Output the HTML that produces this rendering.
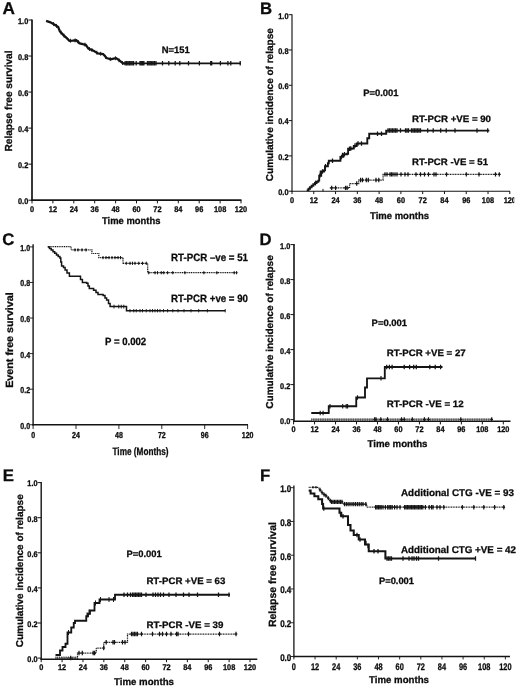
<!DOCTYPE html>
<html><head><meta charset="utf-8"><title>Figure</title>
<style>html,body{margin:0;padding:0;background:#fff;}svg{display:block;filter:blur(0.3px);}text{font-family:"Liberation Sans",sans-serif;fill:#0c0c0c;stroke:#0c0c0c;stroke-width:0.28px;text-rendering:geometricPrecision;}text.t{stroke-width:0.3px;}</style></head><body>
<svg width="520" height="689" viewBox="0 0 520 689">
<rect x="0" y="0" width="520" height="689" fill="#ffffff"/>
<g id="A">
<text x="2.6" y="14.3" font-size="17.2" text-anchor="start" font-weight="bold" >A</text>
<line x1="32" y1="19.5" x2="32" y2="201.05" stroke="#141414" stroke-width="1.7" />
<line x1="31.15" y1="200.2" x2="241.5" y2="200.2" stroke="#141414" stroke-width="1.7" />
<line x1="28.35" y1="20.0" x2="32" y2="20.0" stroke="#141414" stroke-width="1.0" />
<text x="28.25" y="23.9" font-size="8.2" text-anchor="end" font-weight="bold" textLength="10.26" lengthAdjust="spacingAndGlyphs" class="t">1.0</text>
<line x1="28.35" y1="56.04" x2="32" y2="56.04" stroke="#141414" stroke-width="1.0" />
<text x="28.25" y="59.94" font-size="8.2" text-anchor="end" font-weight="bold" textLength="10.26" lengthAdjust="spacingAndGlyphs" class="t">0.8</text>
<line x1="28.35" y1="92.08" x2="32" y2="92.08" stroke="#141414" stroke-width="1.0" />
<text x="28.25" y="95.98" font-size="8.2" text-anchor="end" font-weight="bold" textLength="10.26" lengthAdjust="spacingAndGlyphs" class="t">0.6</text>
<line x1="28.35" y1="128.12" x2="32" y2="128.12" stroke="#141414" stroke-width="1.0" />
<text x="28.25" y="132.02" font-size="8.2" text-anchor="end" font-weight="bold" textLength="10.26" lengthAdjust="spacingAndGlyphs" class="t">0.4</text>
<line x1="28.35" y1="164.16" x2="32" y2="164.16" stroke="#141414" stroke-width="1.0" />
<text x="28.25" y="168.06" font-size="8.2" text-anchor="end" font-weight="bold" textLength="10.26" lengthAdjust="spacingAndGlyphs" class="t">0.2</text>
<line x1="28.35" y1="200.2" x2="32" y2="200.2" stroke="#141414" stroke-width="1.0" />
<text x="28.25" y="204.1" font-size="8.2" text-anchor="end" font-weight="bold" textLength="10.26" lengthAdjust="spacingAndGlyphs" class="t">0.0</text>
<line x1="32.0" y1="200.2" x2="32.0" y2="203.35" stroke="#141414" stroke-width="1.0" />
<text x="32.0" y="211.7" font-size="8.2" text-anchor="middle" font-weight="bold" textLength="4.1" lengthAdjust="spacingAndGlyphs" class="t">0</text>
<line x1="52.9" y1="200.2" x2="52.9" y2="203.35" stroke="#141414" stroke-width="1.0" />
<text x="52.9" y="211.7" font-size="8.2" text-anchor="middle" font-weight="bold" textLength="8.21" lengthAdjust="spacingAndGlyphs" class="t">12</text>
<line x1="73.8" y1="200.2" x2="73.8" y2="203.35" stroke="#141414" stroke-width="1.0" />
<text x="73.8" y="211.7" font-size="8.2" text-anchor="middle" font-weight="bold" textLength="8.21" lengthAdjust="spacingAndGlyphs" class="t">24</text>
<line x1="94.7" y1="200.2" x2="94.7" y2="203.35" stroke="#141414" stroke-width="1.0" />
<text x="94.7" y="211.7" font-size="8.2" text-anchor="middle" font-weight="bold" textLength="8.21" lengthAdjust="spacingAndGlyphs" class="t">36</text>
<line x1="115.6" y1="200.2" x2="115.6" y2="203.35" stroke="#141414" stroke-width="1.0" />
<text x="115.6" y="211.7" font-size="8.2" text-anchor="middle" font-weight="bold" textLength="8.21" lengthAdjust="spacingAndGlyphs" class="t">48</text>
<line x1="136.5" y1="200.2" x2="136.5" y2="203.35" stroke="#141414" stroke-width="1.0" />
<text x="136.5" y="211.7" font-size="8.2" text-anchor="middle" font-weight="bold" textLength="8.21" lengthAdjust="spacingAndGlyphs" class="t">60</text>
<line x1="157.4" y1="200.2" x2="157.4" y2="203.35" stroke="#141414" stroke-width="1.0" />
<text x="157.4" y="211.7" font-size="8.2" text-anchor="middle" font-weight="bold" textLength="8.21" lengthAdjust="spacingAndGlyphs" class="t">72</text>
<line x1="178.3" y1="200.2" x2="178.3" y2="203.35" stroke="#141414" stroke-width="1.0" />
<text x="178.3" y="211.7" font-size="8.2" text-anchor="middle" font-weight="bold" textLength="8.21" lengthAdjust="spacingAndGlyphs" class="t">84</text>
<line x1="199.2" y1="200.2" x2="199.2" y2="203.35" stroke="#141414" stroke-width="1.0" />
<text x="199.2" y="211.7" font-size="8.2" text-anchor="middle" font-weight="bold" textLength="8.21" lengthAdjust="spacingAndGlyphs" class="t">96</text>
<line x1="220.1" y1="200.2" x2="220.1" y2="203.35" stroke="#141414" stroke-width="1.0" />
<text x="220.1" y="211.7" font-size="8.2" text-anchor="middle" font-weight="bold" textLength="12.31" lengthAdjust="spacingAndGlyphs" class="t">108</text>
<line x1="241.0" y1="200.2" x2="241.0" y2="203.35" stroke="#141414" stroke-width="1.0" />
<text x="241.0" y="211.7" font-size="8.2" text-anchor="middle" font-weight="bold" textLength="12.31" lengthAdjust="spacingAndGlyphs" class="t">120</text>
<text x="131.2" y="223.8" font-size="9.8" text-anchor="middle" font-weight="bold" textLength="58.5" lengthAdjust="spacingAndGlyphs" >Time months</text>
<text x="12.1" y="101" font-size="10.2" text-anchor="middle" font-weight="bold" textLength="101" lengthAdjust="spacingAndGlyphs" transform="rotate(-90 12.1 101)" >Relapse free survival</text>
<text x="161.7" y="53" font-size="9.3" text-anchor="start" font-weight="bold" textLength="28" lengthAdjust="spacingAndGlyphs" >N=151</text>
<path d="M46.1,20.9 L50.4,22.3 L54.7,24.7 L58.2,27 L59.9,31.3 L63.4,35.1 L66.8,38.2 L69.4,40.8 L72.5,40.7 L76.3,40.3 L79.8,43.4 L82.8,44.2 L85.8,44.8 L88.4,48.6 L93.6,50.7 L98,53.4 L103.1,54.1 L106.6,58.1 L110.9,59.3 L113.5,58.6 L116.1,58.1 L119.6,60.7 L123,63.3 L125,63.3" fill="none" stroke="#141414" stroke-width="2.3" stroke-linejoin="miter"/>
<line x1="123.5" y1="63.3" x2="241" y2="63.3" stroke="#141414" stroke-width="1.8" />
<path d="M53.59,22.08V26.08M56.54,23.91V27.91M61.07,30.57V34.57M64.04,33.68V37.68M70.57,38.76V42.76M75.12,38.42V42.42M78.26,40.04V44.04M84.88,42.62V46.62M89.43,47.02V51.02M91.96,48.04V52.04M96.84,50.69V54.69M100.61,51.76V55.76M105.51,54.86V58.86M110.26,57.12V61.12M115.42,56.23V60.23M118.97,58.23V62.23M122.57,60.97V64.97" fill="none" stroke="#141414" stroke-width="0.9"/>
<path d="M125.2,61.05V65.55M126.6,61.05V65.55M128,61.05V65.55M129.4,61.05V65.55M130.8,61.05V65.55M132.2,61.05V65.55M133.6,61.05V65.55M136.2,61.05V65.55M140,61.05V65.55M141.3,61.05V65.55M142.6,61.05V65.55M143.9,61.05V65.55M147.5,61.05V65.55M148.9,61.05V65.55M150.3,61.05V65.55M151.7,61.05V65.55M153.1,61.05V65.55M154.5,61.05V65.55M156,61.05V65.55M162.5,61.05V65.55M168.8,61.05V65.55M175.2,61.05V65.55M179.8,61.05V65.55M188.5,61.05V65.55M199.4,61.05V65.55M210.7,61.05V65.55M211.7,61.05V65.55M220.4,61.05V65.55M227.9,61.05V65.55M230.8,61.05V65.55M240.2,61.05V65.55" fill="none" stroke="#141414" stroke-width="1.25"/>
</g>
<g id="B">
<text x="260.0" y="14.1" font-size="16.8" text-anchor="start" font-weight="bold" >B</text>
<line x1="292" y1="14.2" x2="292" y2="191.77" stroke="#141414" stroke-width="1.15" />
<line x1="291.43" y1="191.2" x2="510" y2="191.2" stroke="#141414" stroke-width="1.15" />
<line x1="288.62" y1="14.7" x2="292" y2="14.7" stroke="#141414" stroke-width="1.0" />
<text x="288.52" y="18.5" font-size="8.2" text-anchor="end" font-weight="bold" textLength="10.26" lengthAdjust="spacingAndGlyphs" class="t">1.0</text>
<line x1="288.62" y1="50.0" x2="292" y2="50.0" stroke="#141414" stroke-width="1.0" />
<text x="288.52" y="53.8" font-size="8.2" text-anchor="end" font-weight="bold" textLength="10.26" lengthAdjust="spacingAndGlyphs" class="t">0.8</text>
<line x1="288.62" y1="85.3" x2="292" y2="85.3" stroke="#141414" stroke-width="1.0" />
<text x="288.52" y="89.1" font-size="8.2" text-anchor="end" font-weight="bold" textLength="10.26" lengthAdjust="spacingAndGlyphs" class="t">0.6</text>
<line x1="288.62" y1="120.6" x2="292" y2="120.6" stroke="#141414" stroke-width="1.0" />
<text x="288.52" y="124.4" font-size="8.2" text-anchor="end" font-weight="bold" textLength="10.26" lengthAdjust="spacingAndGlyphs" class="t">0.4</text>
<line x1="288.62" y1="155.9" x2="292" y2="155.9" stroke="#141414" stroke-width="1.0" />
<text x="288.52" y="159.7" font-size="8.2" text-anchor="end" font-weight="bold" textLength="10.26" lengthAdjust="spacingAndGlyphs" class="t">0.2</text>
<line x1="288.62" y1="191.2" x2="292" y2="191.2" stroke="#141414" stroke-width="1.0" />
<text x="288.52" y="195.0" font-size="8.2" text-anchor="end" font-weight="bold" textLength="10.26" lengthAdjust="spacingAndGlyphs" class="t">0.0</text>
<line x1="292.0" y1="191.2" x2="292.0" y2="194.07" stroke="#141414" stroke-width="1.0" />
<text x="292.0" y="202.8" font-size="8.2" text-anchor="middle" font-weight="bold" textLength="4.1" lengthAdjust="spacingAndGlyphs" class="t">0</text>
<line x1="313.78" y1="191.2" x2="313.78" y2="194.07" stroke="#141414" stroke-width="1.0" />
<text x="313.78" y="202.8" font-size="8.2" text-anchor="middle" font-weight="bold" textLength="8.21" lengthAdjust="spacingAndGlyphs" class="t">12</text>
<line x1="335.56" y1="191.2" x2="335.56" y2="194.07" stroke="#141414" stroke-width="1.0" />
<text x="335.56" y="202.8" font-size="8.2" text-anchor="middle" font-weight="bold" textLength="8.21" lengthAdjust="spacingAndGlyphs" class="t">24</text>
<line x1="357.34" y1="191.2" x2="357.34" y2="194.07" stroke="#141414" stroke-width="1.0" />
<text x="357.34" y="202.8" font-size="8.2" text-anchor="middle" font-weight="bold" textLength="8.21" lengthAdjust="spacingAndGlyphs" class="t">36</text>
<line x1="379.12" y1="191.2" x2="379.12" y2="194.07" stroke="#141414" stroke-width="1.0" />
<text x="379.12" y="202.8" font-size="8.2" text-anchor="middle" font-weight="bold" textLength="8.21" lengthAdjust="spacingAndGlyphs" class="t">48</text>
<line x1="400.9" y1="191.2" x2="400.9" y2="194.07" stroke="#141414" stroke-width="1.0" />
<text x="400.9" y="202.8" font-size="8.2" text-anchor="middle" font-weight="bold" textLength="8.21" lengthAdjust="spacingAndGlyphs" class="t">60</text>
<line x1="422.68" y1="191.2" x2="422.68" y2="194.07" stroke="#141414" stroke-width="1.0" />
<text x="422.68" y="202.8" font-size="8.2" text-anchor="middle" font-weight="bold" textLength="8.21" lengthAdjust="spacingAndGlyphs" class="t">72</text>
<line x1="444.46" y1="191.2" x2="444.46" y2="194.07" stroke="#141414" stroke-width="1.0" />
<text x="444.46" y="202.8" font-size="8.2" text-anchor="middle" font-weight="bold" textLength="8.21" lengthAdjust="spacingAndGlyphs" class="t">84</text>
<line x1="466.24" y1="191.2" x2="466.24" y2="194.07" stroke="#141414" stroke-width="1.0" />
<text x="466.24" y="202.8" font-size="8.2" text-anchor="middle" font-weight="bold" textLength="8.21" lengthAdjust="spacingAndGlyphs" class="t">96</text>
<line x1="488.02" y1="191.2" x2="488.02" y2="194.07" stroke="#141414" stroke-width="1.0" />
<text x="488.02" y="202.8" font-size="8.2" text-anchor="middle" font-weight="bold" textLength="12.31" lengthAdjust="spacingAndGlyphs" class="t">108</text>
<line x1="509.8" y1="191.2" x2="509.8" y2="194.07" stroke="#141414" stroke-width="1.0" />
<text x="509.8" y="202.8" font-size="8.2" text-anchor="middle" font-weight="bold" textLength="12.31" lengthAdjust="spacingAndGlyphs" class="t">120</text>
<rect x="514.3" y="194" width="6" height="12" fill="#fff"/>
<text x="399.5" y="218.5" font-size="9.8" text-anchor="middle" font-weight="bold" textLength="59" lengthAdjust="spacingAndGlyphs" >Time months</text>
<text x="272.7" y="104.7" font-size="10" text-anchor="middle" font-weight="bold" textLength="153" lengthAdjust="spacingAndGlyphs" transform="rotate(-90 272.7 104.7)" >Cumulative incidence of relapse</text>
<text x="363.2" y="95.8" font-size="9.3" text-anchor="start" font-weight="bold" textLength="35.3" lengthAdjust="spacingAndGlyphs" >P=0.001</text>
<text x="412" y="121.6" font-size="9.3" text-anchor="start" font-weight="bold" textLength="79" lengthAdjust="spacingAndGlyphs" >RT-PCR +VE = 90</text>
<text x="412" y="165.0" font-size="9.3" text-anchor="start" font-weight="bold" textLength="76" lengthAdjust="spacingAndGlyphs" >RT-PCR -VE = 51</text>
<path d="M306.7,190.2 H308.5 V188.8 H310 V187.2 H311.6 V185.8 H313.3 V184.3 H315 V183 H316.6 V181.8 H318.3 V180.6 H319.2 V175.8 H321.2 V171.5 H324 V170.4 H325 V166.2 H327.9 V163.3 H328.8 V160.8 H338.5 V160.8 H340.4 V156.9 H343.3 V154.2 H347.1 V153.7 H348.1 V148.8 H351.9 V148.5 H353.8 V146 H356.7 V143.5 H366.3 V143.5 H367.3 V138.3 H369.2 V133.8 H384.6 V133.8 H386.2 V130.6 H489.3 V130.6" fill="none" stroke="#141414" stroke-width="1.9" stroke-linejoin="miter"/>
<path d="M315.5,180.75V185.25M319.8,173.55V178.05M320.3,170.75V175.25M322.5,169.25V173.75M325.5,163.95V168.45M332.5,158.55V163.05M341.5,154.65V159.15M342.5,152.75V157.25M344.5,151.95V156.45M349.5,146.55V151.05M350.8,146.35V150.85M355,143.25V147.75M358,141.25V145.75M361.5,141.25V145.75M377.5,131.55V136.05M381.5,131.55V136.05" fill="none" stroke="#141414" stroke-width="1.25"/>
<path d="M388,128.35V132.85M389.5,128.35V132.85M391,128.35V132.85M392.5,128.35V132.85M394,128.35V132.85M395.5,128.35V132.85M397,128.35V132.85M400.5,128.35V132.85M405.5,128.35V132.85M407,128.35V132.85M408.5,128.35V132.85M411.5,128.35V132.85M413,128.35V132.85M414.5,128.35V132.85M416,128.35V132.85M417.5,128.35V132.85M419,128.35V132.85M420.5,128.35V132.85M427.7,128.35V132.85M433.2,128.35V132.85M440.7,128.35V132.85M446.2,128.35V132.85M455,128.35V132.85M477,128.35V132.85M487.7,128.35V132.85" fill="none" stroke="#141414" stroke-width="1.25"/>
<path d="M329.8,187.9 H348.1 V187.9 H349.6 V183.5 H357.7 V183.5 H358.7 V180 H382.3 V180 H383.1 V174.4 H499.8 V174.4" fill="none" stroke="#141414" stroke-width="1.25" stroke-linejoin="miter" stroke-dasharray="1.0 0.65"/>
<path d="M323,188.89999999999998V191.5" fill="none" stroke="#141414" stroke-width="1.0"/>
<path d="M331.7,185.7V190.1M330.3,187.9H333.1M335.6,185.7V190.1M334.2,187.9H337.0M345.5,185.7V190.1M344.1,187.9H346.9M347.1,185.7V190.1M345.7,187.9H348.5M356.7,181.3V185.7M355.3,183.5H358.1M360.6,177.8V182.2M359.2,180H362.0M362.5,177.8V182.2M361.1,180H363.9M366.3,177.8V182.2M364.9,180H367.7M368.3,177.8V182.2M366.9,180H369.7M376,177.8V182.2M374.6,180H377.4M378.8,177.8V182.2M377.4,180H380.2" fill="none" stroke="#141414" stroke-width="1.2"/>
<path d="M385,172.2V176.6M383.6,174.4H386.4M387,172.2V176.6M385.6,174.4H388.4M390,172.2V176.6M388.6,174.4H391.4M391.5,172.2V176.6M390.1,174.4H392.9M393,172.2V176.6M391.6,174.4H394.4M395,172.2V176.6M393.6,174.4H396.4M397,172.2V176.6M395.6,174.4H398.4M401,172.2V176.6M399.6,174.4H402.4M405,172.2V176.6M403.6,174.4H406.4M408,172.2V176.6M406.6,174.4H409.4M416,172.2V176.6M414.6,174.4H417.4M420.5,172.2V176.6M419.1,174.4H421.9M424.5,172.2V176.6M423.1,174.4H425.9M428.5,172.2V176.6M427.1,174.4H429.9M434,172.2V176.6M432.6,174.4H435.4M436,172.2V176.6M434.6,174.4H437.4M446.5,172.2V176.6M445.1,174.4H447.9M466.3,172.2V176.6M464.9,174.4H467.7M479,172.2V176.6M477.6,174.4H480.4M495.5,172.2V176.6M494.1,174.4H496.9M499.3,172.2V176.6M497.9,174.4H500.7" fill="none" stroke="#141414" stroke-width="1.2"/>
</g>
<g id="C">
<text x="2.3" y="245.4" font-size="16.7" text-anchor="start" font-weight="bold" >C</text>
<line x1="33.1" y1="244.25" x2="33.1" y2="425.45" stroke="#141414" stroke-width="1.4" />
<line x1="32.4" y1="424.75" x2="248" y2="424.75" stroke="#141414" stroke-width="1.4" />
<line x1="29.6" y1="246.9" x2="33.1" y2="246.9" stroke="#141414" stroke-width="0.9" />
<text x="30.1" y="250.9" font-size="8.6" text-anchor="end" font-weight="bold" textLength="9.8" lengthAdjust="spacingAndGlyphs" class="t">1.0</text>
<line x1="29.6" y1="282.47" x2="33.1" y2="282.47" stroke="#141414" stroke-width="0.9" />
<text x="30.1" y="286.47" font-size="8.6" text-anchor="end" font-weight="bold" textLength="9.8" lengthAdjust="spacingAndGlyphs" class="t">0.8</text>
<line x1="29.6" y1="318.04" x2="33.1" y2="318.04" stroke="#141414" stroke-width="0.9" />
<text x="30.1" y="322.04" font-size="8.6" text-anchor="end" font-weight="bold" textLength="9.8" lengthAdjust="spacingAndGlyphs" class="t">0.6</text>
<line x1="29.6" y1="353.61" x2="33.1" y2="353.61" stroke="#141414" stroke-width="0.9" />
<text x="30.1" y="357.61" font-size="8.6" text-anchor="end" font-weight="bold" textLength="9.8" lengthAdjust="spacingAndGlyphs" class="t">0.4</text>
<line x1="29.6" y1="389.18" x2="33.1" y2="389.18" stroke="#141414" stroke-width="0.9" />
<text x="30.1" y="393.18" font-size="8.6" text-anchor="end" font-weight="bold" textLength="9.8" lengthAdjust="spacingAndGlyphs" class="t">0.2</text>
<line x1="29.6" y1="424.75" x2="33.1" y2="424.75" stroke="#141414" stroke-width="0.9" />
<text x="30.1" y="428.75" font-size="8.6" text-anchor="end" font-weight="bold" textLength="9.8" lengthAdjust="spacingAndGlyphs" class="t">0.0</text>
<line x1="33.1" y1="424.75" x2="33.1" y2="429.05" stroke="#141414" stroke-width="0.9" />
<text x="33.1" y="437.9" font-size="8.6" text-anchor="middle" font-weight="bold" textLength="3.92" lengthAdjust="spacingAndGlyphs" class="t">0</text>
<line x1="76.0" y1="424.75" x2="76.0" y2="429.05" stroke="#141414" stroke-width="0.9" />
<text x="76.0" y="437.9" font-size="8.6" text-anchor="middle" font-weight="bold" textLength="7.84" lengthAdjust="spacingAndGlyphs" class="t">24</text>
<line x1="118.9" y1="424.75" x2="118.9" y2="429.05" stroke="#141414" stroke-width="0.9" />
<text x="118.9" y="437.9" font-size="8.6" text-anchor="middle" font-weight="bold" textLength="7.84" lengthAdjust="spacingAndGlyphs" class="t">48</text>
<line x1="161.8" y1="424.75" x2="161.8" y2="429.05" stroke="#141414" stroke-width="0.9" />
<text x="161.8" y="437.9" font-size="8.6" text-anchor="middle" font-weight="bold" textLength="7.84" lengthAdjust="spacingAndGlyphs" class="t">72</text>
<line x1="204.7" y1="424.75" x2="204.7" y2="429.05" stroke="#141414" stroke-width="0.9" />
<text x="204.7" y="437.9" font-size="8.6" text-anchor="middle" font-weight="bold" textLength="7.84" lengthAdjust="spacingAndGlyphs" class="t">96</text>
<line x1="247.6" y1="424.75" x2="247.6" y2="429.05" stroke="#141414" stroke-width="0.9" />
<text x="247.6" y="437.9" font-size="8.6" text-anchor="middle" font-weight="bold" textLength="11.76" lengthAdjust="spacingAndGlyphs" class="t">120</text>
<text x="140.5" y="454.6" font-size="10.7" text-anchor="middle" font-weight="bold" textLength="56" lengthAdjust="spacingAndGlyphs" >Time (Months)</text>
<text x="13.1" y="340.1" font-size="10.4" text-anchor="middle" font-weight="bold" textLength="95.5" lengthAdjust="spacingAndGlyphs" transform="rotate(-90 13.1 340.1)" >Event free survival</text>
<text x="105" y="344.7" font-size="10.5" text-anchor="start" font-weight="bold" textLength="41.2" lengthAdjust="spacingAndGlyphs" >P = 0.002</text>
<text x="171" y="260.5" font-size="10.6" text-anchor="start" font-weight="bold" textLength="77" lengthAdjust="spacingAndGlyphs" >RT-PCR –ve = 51</text>
<text x="171" y="302.4" font-size="10.6" text-anchor="start" font-weight="bold" textLength="77" lengthAdjust="spacingAndGlyphs" >RT-PCR +ve = 90</text>
<path d="M47.8,246.9 H49.5 V248.5 H51.2 V250 H53 V251.7 H54.7 V253.3 H56.5 V255 H58.2 V256.5 H59.9 V258 H60.8 V262 H61.6 V266 H63.5 V267.5 H65.1 V270 H67 V273 H69.4 V276.3 H78.9 V276.3 H80.5 V279.5 H82.4 V282.4 H86.7 V283.3 H88 V286 H89.3 V288.4 H93.6 V290.2 H96 V292.5 H98 V294.5 H103.1 V295.4 H105 V298 H106.6 V300 H108.5 V303.5 H110.1 V306.6 H124.8 V306.6 H126.5 V310.7 H225.4 V310.7" fill="none" stroke="#141414" stroke-width="1.5" stroke-linejoin="miter"/>
<path d="M114,304.70000000000005V308.5M118.75,304.70000000000005V308.5M121.25,304.70000000000005V308.5M123.75,304.70000000000005V308.5" fill="none" stroke="#141414" stroke-width="0.9"/>
<path d="M130,309.0V312.4M133.75,309.0V312.4M136.25,309.0V312.4M140,309.0V312.4M142.5,309.0V312.4M146.25,309.0V312.4M150,309.0V312.4M152.5,309.0V312.4M155,309.0V312.4M157.5,309.0V312.4M160,309.0V312.4M163.5,309.0V312.4M167.6,309.0V312.4M172.8,309.0V312.4M178,309.0V312.4M184,309.0V312.4M191,309.0V312.4M198.7,309.0V312.4M207.4,309.0V312.4M225.2,309.0V312.4" fill="none" stroke="#141414" stroke-width="0.9"/>
<path d="M47.8,246.6 H69.4 V246.6 H71.1 V249.9 H90.2 V249.9 H91.9 V253.5 H98 V253.5 H98.8 V257.6 H122.2 V257.6 H123 V263.3 H147.5 V263.3 H147.7 V272.7 H237 V272.7" fill="none" stroke="#141414" stroke-width="1.2" stroke-linejoin="miter" stroke-dasharray="1.1 0.7"/>
<path d="M75,248.3V251.5M74.0,249.9H76.0M78,248.3V251.5M77.0,249.9H79.0M82,248.3V251.5M81.0,249.9H83.0M86,248.3V251.5M85.0,249.9H87.0M103,256.0V259.2M102.0,257.6H104.0M106,256.0V259.2M105.0,257.6H107.0M109,256.0V259.2M108.0,257.6H110.0M112,256.0V259.2M111.0,257.6H113.0M115,256.0V259.2M114.0,257.6H116.0M118,256.0V259.2M117.0,257.6H119.0M120.5,256.0V259.2M119.5,257.6H121.5M126.25,261.7V264.9M125.25,263.3H127.25M130,261.7V264.9M129.0,263.3H131.0M132.5,261.7V264.9M131.5,263.3H133.5M135,261.7V264.9M134.0,263.3H136.0M138.75,261.7V264.9M137.75,263.3H139.75M142.5,261.7V264.9M141.5,263.3H143.5M146.25,261.7V264.9M145.25,263.3H147.25" fill="none" stroke="#141414" stroke-width="1.0"/>
<path d="M148.75,271.1V274.3M147.75,272.7H149.75M155,271.1V274.3M154.0,272.7H156.0M157.5,271.1V274.3M156.5,272.7H158.5M161.25,271.1V274.3M160.25,272.7H162.25M163.75,271.1V274.3M162.75,272.7H164.75M167.6,271.1V274.3M166.6,272.7H168.6M172.8,271.1V274.3M171.8,272.7H173.8M184.9,271.1V274.3M183.9,272.7H185.9M203.9,271.1V274.3M202.9,272.7H204.9M216.9,271.1V274.3M215.9,272.7H217.9M234.2,271.1V274.3M233.2,272.7H235.2M236.6,271.1V274.3M235.6,272.7H237.6" fill="none" stroke="#141414" stroke-width="1.0"/>
</g>
<g id="D">
<text x="259.4" y="244.9" font-size="16.7" text-anchor="start" font-weight="bold" >D</text>
<line x1="294" y1="244.1" x2="294" y2="422.1" stroke="#141414" stroke-width="1.6" />
<line x1="293.2" y1="421.3" x2="510.5" y2="421.3" stroke="#141414" stroke-width="1.6" />
<line x1="290.4" y1="244.6" x2="294" y2="244.6" stroke="#141414" stroke-width="1.0" />
<text x="290.3" y="248.8" font-size="8.2" text-anchor="end" font-weight="bold" textLength="10.26" lengthAdjust="spacingAndGlyphs" class="t">1.0</text>
<line x1="290.4" y1="279.6" x2="294" y2="279.6" stroke="#141414" stroke-width="1.0" />
<text x="290.3" y="283.8" font-size="8.2" text-anchor="end" font-weight="bold" textLength="10.26" lengthAdjust="spacingAndGlyphs" class="t">0.8</text>
<line x1="290.4" y1="314.6" x2="294" y2="314.6" stroke="#141414" stroke-width="1.0" />
<text x="290.3" y="318.8" font-size="8.2" text-anchor="end" font-weight="bold" textLength="10.26" lengthAdjust="spacingAndGlyphs" class="t">0.6</text>
<line x1="290.4" y1="349.6" x2="294" y2="349.6" stroke="#141414" stroke-width="1.0" />
<text x="290.3" y="353.8" font-size="8.2" text-anchor="end" font-weight="bold" textLength="10.26" lengthAdjust="spacingAndGlyphs" class="t">0.4</text>
<line x1="290.4" y1="384.6" x2="294" y2="384.6" stroke="#141414" stroke-width="1.0" />
<text x="290.3" y="388.8" font-size="8.2" text-anchor="end" font-weight="bold" textLength="10.26" lengthAdjust="spacingAndGlyphs" class="t">0.2</text>
<line x1="290.4" y1="419.6" x2="294" y2="419.6" stroke="#141414" stroke-width="1.0" />
<text x="290.3" y="423.8" font-size="8.2" text-anchor="end" font-weight="bold" textLength="10.26" lengthAdjust="spacingAndGlyphs" class="t">0.0</text>
<line x1="293.6" y1="421.3" x2="293.6" y2="424.4" stroke="#141414" stroke-width="1.0" />
<text x="293.6" y="432.3" font-size="8.2" text-anchor="middle" font-weight="bold" textLength="4.1" lengthAdjust="spacingAndGlyphs" class="t">0</text>
<line x1="314.57" y1="421.3" x2="314.57" y2="424.4" stroke="#141414" stroke-width="1.0" />
<text x="314.57" y="432.3" font-size="8.2" text-anchor="middle" font-weight="bold" textLength="8.21" lengthAdjust="spacingAndGlyphs" class="t">12</text>
<line x1="335.54" y1="421.3" x2="335.54" y2="424.4" stroke="#141414" stroke-width="1.0" />
<text x="335.54" y="432.3" font-size="8.2" text-anchor="middle" font-weight="bold" textLength="8.21" lengthAdjust="spacingAndGlyphs" class="t">24</text>
<line x1="356.51" y1="421.3" x2="356.51" y2="424.4" stroke="#141414" stroke-width="1.0" />
<text x="356.51" y="432.3" font-size="8.2" text-anchor="middle" font-weight="bold" textLength="8.21" lengthAdjust="spacingAndGlyphs" class="t">36</text>
<line x1="377.48" y1="421.3" x2="377.48" y2="424.4" stroke="#141414" stroke-width="1.0" />
<text x="377.48" y="432.3" font-size="8.2" text-anchor="middle" font-weight="bold" textLength="8.21" lengthAdjust="spacingAndGlyphs" class="t">48</text>
<line x1="398.45" y1="421.3" x2="398.45" y2="424.4" stroke="#141414" stroke-width="1.0" />
<text x="398.45" y="432.3" font-size="8.2" text-anchor="middle" font-weight="bold" textLength="8.21" lengthAdjust="spacingAndGlyphs" class="t">60</text>
<line x1="419.42" y1="421.3" x2="419.42" y2="424.4" stroke="#141414" stroke-width="1.0" />
<text x="419.42" y="432.3" font-size="8.2" text-anchor="middle" font-weight="bold" textLength="8.21" lengthAdjust="spacingAndGlyphs" class="t">72</text>
<line x1="440.39" y1="421.3" x2="440.39" y2="424.4" stroke="#141414" stroke-width="1.0" />
<text x="440.39" y="432.3" font-size="8.2" text-anchor="middle" font-weight="bold" textLength="8.21" lengthAdjust="spacingAndGlyphs" class="t">84</text>
<line x1="461.36" y1="421.3" x2="461.36" y2="424.4" stroke="#141414" stroke-width="1.0" />
<text x="461.36" y="432.3" font-size="8.2" text-anchor="middle" font-weight="bold" textLength="8.21" lengthAdjust="spacingAndGlyphs" class="t">96</text>
<line x1="482.33" y1="421.3" x2="482.33" y2="424.4" stroke="#141414" stroke-width="1.0" />
<text x="482.33" y="432.3" font-size="8.2" text-anchor="middle" font-weight="bold" textLength="12.31" lengthAdjust="spacingAndGlyphs" class="t">108</text>
<line x1="503.3" y1="421.3" x2="503.3" y2="424.4" stroke="#141414" stroke-width="1.0" />
<text x="503.3" y="432.3" font-size="8.2" text-anchor="middle" font-weight="bold" textLength="12.31" lengthAdjust="spacingAndGlyphs" class="t">120</text>
<text x="397.5" y="447" font-size="9.8" text-anchor="middle" font-weight="bold" textLength="60" lengthAdjust="spacingAndGlyphs" >Time months</text>
<text x="272.6" y="332" font-size="10" text-anchor="middle" font-weight="bold" textLength="153.5" lengthAdjust="spacingAndGlyphs" transform="rotate(-90 272.6 332)" >Cumulative incidence of relapse</text>
<text x="371.6" y="325.6" font-size="9.3" text-anchor="start" font-weight="bold" textLength="35.5" lengthAdjust="spacingAndGlyphs" >P=0.001</text>
<text x="386.7" y="355.5" font-size="9.3" text-anchor="start" font-weight="bold" textLength="79" lengthAdjust="spacingAndGlyphs" >RT-PCR +VE = 27</text>
<text x="386.7" y="406.8" font-size="9.3" text-anchor="start" font-weight="bold" textLength="77" lengthAdjust="spacingAndGlyphs" >RT-PCR -VE = 12</text>
<line x1="311.2" y1="419.75" x2="493" y2="419.75" stroke="#9a9a9a" stroke-width="2.5" />
<line x1="311.2" y1="419.75" x2="493" y2="419.75" stroke="#444" stroke-width="2.5" stroke-dasharray="0.75 1.0"/>
<path d="M374.6,417.3V421.7M373.3,419.5H375.9M376,417.3V421.7M374.7,419.5H377.3M380.8,417.3V421.7M379.5,419.5H382.1M387.5,417.3V421.7M386.2,419.5H388.8M401.5,417.3V421.7M400.2,419.5H402.8M404.2,417.3V421.7M402.9,419.5H405.5M412.3,417.3V421.7M411.0,419.5H413.6M424.4,417.3V421.7M423.1,419.5H425.7M428.5,417.3V421.7M427.2,419.5H429.8M460.8,417.3V421.7M459.5,419.5H462.1M491.7,417.3V421.7M490.4,419.5H493.0" fill="none" stroke="#141414" stroke-width="1.2"/>
<path d="M311.25,413 H328.75 V413 H328.75 V406.25 H356.25 V406.25 H356.25 V397.5 H365 V397.5 H365 V387.5 H367 V387.5 H367 V378.3 H384.8 V378.3 H384.8 V367 H442.5 V367" fill="none" stroke="#141414" stroke-width="1.85" stroke-linejoin="miter"/>
<path d="M320.2,410.8V415.2M323.1,410.8V415.2M330,404.05V408.45M342.7,404.05V408.45M346.2,404.05V408.45M347.6,404.05V408.45M357.5,395.3V399.7M381,376.1V380.5" fill="none" stroke="#141414" stroke-width="1.1"/>
<path d="M386.7,364.75V369.25M389.4,364.75V369.25M392.1,364.75V369.25M404.2,364.75V369.25M409.6,364.75V369.25M413.7,364.75V369.25M416.3,364.75V369.25M429.8,364.75V369.25M435.2,364.75V369.25M440.6,364.75V369.25" fill="none" stroke="#141414" stroke-width="1.25"/>
</g>
<g id="E">
<text x="2.7" y="481.0" font-size="16.8" text-anchor="start" font-weight="bold" >E</text>
<line x1="41.2" y1="482.1" x2="41.2" y2="659.9" stroke="#141414" stroke-width="1.4" />
<line x1="40.5" y1="659.2" x2="257.3" y2="659.2" stroke="#141414" stroke-width="1.4" />
<line x1="37.7" y1="482.6" x2="41.2" y2="482.6" stroke="#141414" stroke-width="1.0" />
<text x="37.6" y="486.4" font-size="8.2" text-anchor="end" font-weight="bold" textLength="10.26" lengthAdjust="spacingAndGlyphs" class="t">1.0</text>
<line x1="37.7" y1="517.7" x2="41.2" y2="517.7" stroke="#141414" stroke-width="1.0" />
<text x="37.6" y="521.5" font-size="8.2" text-anchor="end" font-weight="bold" textLength="10.26" lengthAdjust="spacingAndGlyphs" class="t">0.8</text>
<line x1="37.7" y1="552.8" x2="41.2" y2="552.8" stroke="#141414" stroke-width="1.0" />
<text x="37.6" y="556.6" font-size="8.2" text-anchor="end" font-weight="bold" textLength="10.26" lengthAdjust="spacingAndGlyphs" class="t">0.6</text>
<line x1="37.7" y1="587.9" x2="41.2" y2="587.9" stroke="#141414" stroke-width="1.0" />
<text x="37.6" y="591.7" font-size="8.2" text-anchor="end" font-weight="bold" textLength="10.26" lengthAdjust="spacingAndGlyphs" class="t">0.4</text>
<line x1="37.7" y1="623.0" x2="41.2" y2="623.0" stroke="#141414" stroke-width="1.0" />
<text x="37.6" y="626.8" font-size="8.2" text-anchor="end" font-weight="bold" textLength="10.26" lengthAdjust="spacingAndGlyphs" class="t">0.2</text>
<line x1="37.7" y1="658.1" x2="41.2" y2="658.1" stroke="#141414" stroke-width="1.0" />
<text x="37.6" y="661.9" font-size="8.2" text-anchor="end" font-weight="bold" textLength="10.26" lengthAdjust="spacingAndGlyphs" class="t">0.0</text>
<line x1="41.2" y1="659.2" x2="41.2" y2="662.2" stroke="#141414" stroke-width="1.0" />
<text x="41.2" y="670.4" font-size="8.2" text-anchor="middle" font-weight="bold" textLength="4.1" lengthAdjust="spacingAndGlyphs" class="t">0</text>
<line x1="62.08" y1="659.2" x2="62.08" y2="662.2" stroke="#141414" stroke-width="1.0" />
<text x="62.08" y="670.4" font-size="8.2" text-anchor="middle" font-weight="bold" textLength="8.21" lengthAdjust="spacingAndGlyphs" class="t">12</text>
<line x1="82.96" y1="659.2" x2="82.96" y2="662.2" stroke="#141414" stroke-width="1.0" />
<text x="82.96" y="670.4" font-size="8.2" text-anchor="middle" font-weight="bold" textLength="8.21" lengthAdjust="spacingAndGlyphs" class="t">24</text>
<line x1="103.84" y1="659.2" x2="103.84" y2="662.2" stroke="#141414" stroke-width="1.0" />
<text x="103.84" y="670.4" font-size="8.2" text-anchor="middle" font-weight="bold" textLength="8.21" lengthAdjust="spacingAndGlyphs" class="t">36</text>
<line x1="124.72" y1="659.2" x2="124.72" y2="662.2" stroke="#141414" stroke-width="1.0" />
<text x="124.72" y="670.4" font-size="8.2" text-anchor="middle" font-weight="bold" textLength="8.21" lengthAdjust="spacingAndGlyphs" class="t">48</text>
<line x1="145.6" y1="659.2" x2="145.6" y2="662.2" stroke="#141414" stroke-width="1.0" />
<text x="145.6" y="670.4" font-size="8.2" text-anchor="middle" font-weight="bold" textLength="8.21" lengthAdjust="spacingAndGlyphs" class="t">60</text>
<line x1="166.48" y1="659.2" x2="166.48" y2="662.2" stroke="#141414" stroke-width="1.0" />
<text x="166.48" y="670.4" font-size="8.2" text-anchor="middle" font-weight="bold" textLength="8.21" lengthAdjust="spacingAndGlyphs" class="t">72</text>
<line x1="187.36" y1="659.2" x2="187.36" y2="662.2" stroke="#141414" stroke-width="1.0" />
<text x="187.36" y="670.4" font-size="8.2" text-anchor="middle" font-weight="bold" textLength="8.21" lengthAdjust="spacingAndGlyphs" class="t">84</text>
<line x1="208.24" y1="659.2" x2="208.24" y2="662.2" stroke="#141414" stroke-width="1.0" />
<text x="208.24" y="670.4" font-size="8.2" text-anchor="middle" font-weight="bold" textLength="8.21" lengthAdjust="spacingAndGlyphs" class="t">96</text>
<line x1="229.12" y1="659.2" x2="229.12" y2="662.2" stroke="#141414" stroke-width="1.0" />
<text x="229.12" y="670.4" font-size="8.2" text-anchor="middle" font-weight="bold" textLength="12.31" lengthAdjust="spacingAndGlyphs" class="t">108</text>
<line x1="250.0" y1="659.2" x2="250.0" y2="662.2" stroke="#141414" stroke-width="1.0" />
<text x="250.0" y="670.4" font-size="8.2" text-anchor="middle" font-weight="bold" textLength="12.31" lengthAdjust="spacingAndGlyphs" class="t">120</text>
<text x="144" y="685" font-size="9.8" text-anchor="middle" font-weight="bold" textLength="60" lengthAdjust="spacingAndGlyphs" >Time months</text>
<text x="22.8" y="570.8" font-size="10" text-anchor="middle" font-weight="bold" textLength="153" lengthAdjust="spacingAndGlyphs" transform="rotate(-90 22.8 570.8)" >Cumulative incidence of relapse</text>
<text x="126.5" y="557.1" font-size="9.3" text-anchor="start" font-weight="bold" textLength="35.3" lengthAdjust="spacingAndGlyphs" >P=0.001</text>
<text x="146.4" y="584.3" font-size="9.3" text-anchor="start" font-weight="bold" textLength="79" lengthAdjust="spacingAndGlyphs" >RT-PCR +VE = 63</text>
<text x="146.4" y="628.2" font-size="9.3" text-anchor="start" font-weight="bold" textLength="77" lengthAdjust="spacingAndGlyphs" >RT-PCR -VE = 39</text>
<path d="M55.5,655 H60 V655 H60 V650.5 H62.5 V650.5 H62.5 V647 H65.5 V647 H65.5 V643.75 H67.5 V643.75 H67.5 V632.5 H71.25 V632.5 H71.25 V627.5 H73.75 V627.5 H73.75 V623 H75 V623 H75 V620.75 H86.25 V620.75 H86.25 V616.25 H88 V616.25 H88 V613.75 H90 V613.75 H90 V610.5 H94.5 V610.5 H94.5 V603 H99.5 V603 H99.5 V599.5 H115 V599.5 H115 V594.7 H230 V594.7" fill="none" stroke="#141414" stroke-width="1.85" stroke-linejoin="miter"/>
<path d="M68.5,630.0V635.0M87,612.5V617.5M89,609.5V614.5M95.5,600.5V605.5M100.5,597.0V602.0M109,597.0V602.0M113.5,597.0V602.0" fill="none" stroke="#141414" stroke-width="1.0"/>
<path d="M124,592.45V596.95M127.5,592.45V596.95M130.5,592.45V596.95M132.5,592.45V596.95M134,592.45V596.95M135.5,592.45V596.95M137,592.45V596.95M138.5,592.45V596.95M140,592.45V596.95M141.5,592.45V596.95M146,592.45V596.95M153,592.45V596.95M155.5,592.45V596.95M158,592.45V596.95M160.5,592.45V596.95M163.5,592.45V596.95M169,592.45V596.95M176,592.45V596.95M183.5,592.45V596.95M189,592.45V596.95M197.5,592.45V596.95M218.5,592.45V596.95M229,592.45V596.95" fill="none" stroke="#141414" stroke-width="1.25"/>
<path d="M55.5,658 H77.5 V658 H77.5 V653 H96.25 V653 H96.25 V648 H103.75 V648 H103.75 V642.3 H127.5 V642.3 H127.5 V634 H237 V634" fill="none" stroke="#141414" stroke-width="1.25" stroke-linejoin="miter" stroke-dasharray="1.0 0.65"/>
<line x1="55.5" y1="657.5" x2="77.5" y2="657.5" stroke="#333" stroke-width="2.0" stroke-dasharray="0.9 0.9"/>
<path d="M70.7,655.8V660.2M69.3,658H72.1M79,650.8V655.2M77.6,653H80.4M82.3,650.8V655.2M80.9,653H83.7M93.2,650.8V655.2M91.8,653H94.6M94.6,650.8V655.2M93.2,653H96.0M103.7,645.8V650.2M102.3,648H105.1M106.2,640.1V644.5M104.8,642.3H107.6M113,640.1V644.5M111.6,642.3H114.4M114.5,640.1V644.5M113.1,642.3H115.9M122.5,640.1V644.5M121.1,642.3H123.9M125,640.1V644.5M123.6,642.3H126.4" fill="none" stroke="#141414" stroke-width="1.2"/>
<path d="M131.5,631.8V636.2M130.1,634H132.9M133,631.8V636.2M131.6,634H134.4M134.5,631.8V636.2M133.1,634H135.9M136,631.8V636.2M134.6,634H137.4M137.5,631.8V636.2M136.1,634H138.9M141.5,631.8V636.2M140.1,634H142.9M152.5,631.8V636.2M151.1,634H153.9M159.5,631.8V636.2M158.1,634H160.9M162.5,631.8V636.2M161.1,634H163.9M166.5,631.8V636.2M165.1,634H167.9M171,631.8V636.2M169.6,634H172.4M176.5,631.8V636.2M175.1,634H177.9M178,631.8V636.2M176.6,634H179.4M188.5,631.8V636.2M187.1,634H189.9M219.5,631.8V636.2M218.1,634H220.9M236,631.8V636.2M234.6,634H237.4" fill="none" stroke="#141414" stroke-width="1.2"/>
</g>
<g id="F">
<text x="259.9" y="480.8" font-size="16.8" text-anchor="start" font-weight="bold" >F</text>
<line x1="293.9" y1="485.45" x2="293.9" y2="657.15" stroke="#141414" stroke-width="1.3" />
<line x1="293.25" y1="656.5" x2="510" y2="656.5" stroke="#141414" stroke-width="1.3" />
<line x1="290.45" y1="487.7" x2="293.9" y2="487.7" stroke="#141414" stroke-width="0.9" />
<text x="291.35" y="492.2" font-size="9.6" text-anchor="end" font-weight="bold" textLength="11.21" lengthAdjust="spacingAndGlyphs" class="t">1.0</text>
<line x1="290.45" y1="521.46" x2="293.9" y2="521.46" stroke="#141414" stroke-width="0.9" />
<text x="291.35" y="525.96" font-size="9.6" text-anchor="end" font-weight="bold" textLength="11.21" lengthAdjust="spacingAndGlyphs" class="t">0.8</text>
<line x1="290.45" y1="555.22" x2="293.9" y2="555.22" stroke="#141414" stroke-width="0.9" />
<text x="291.35" y="559.72" font-size="9.6" text-anchor="end" font-weight="bold" textLength="11.21" lengthAdjust="spacingAndGlyphs" class="t">0.6</text>
<line x1="290.45" y1="588.98" x2="293.9" y2="588.98" stroke="#141414" stroke-width="0.9" />
<text x="291.35" y="593.48" font-size="9.6" text-anchor="end" font-weight="bold" textLength="11.21" lengthAdjust="spacingAndGlyphs" class="t">0.4</text>
<line x1="290.45" y1="622.74" x2="293.9" y2="622.74" stroke="#141414" stroke-width="0.9" />
<text x="291.35" y="627.24" font-size="9.6" text-anchor="end" font-weight="bold" textLength="11.21" lengthAdjust="spacingAndGlyphs" class="t">0.2</text>
<line x1="290.45" y1="656.5" x2="293.9" y2="656.5" stroke="#141414" stroke-width="0.9" />
<text x="291.35" y="661.0" font-size="9.6" text-anchor="end" font-weight="bold" textLength="11.21" lengthAdjust="spacingAndGlyphs" class="t">0.0</text>
<line x1="293.9" y1="656.5" x2="293.9" y2="659.45" stroke="#141414" stroke-width="0.9" />
<text x="293.9" y="670.4" font-size="9.6" text-anchor="middle" font-weight="bold" textLength="4.11" lengthAdjust="spacingAndGlyphs" class="t">0</text>
<line x1="315.05" y1="656.5" x2="315.05" y2="659.45" stroke="#141414" stroke-width="0.9" />
<text x="315.05" y="670.4" font-size="9.6" text-anchor="middle" font-weight="bold" textLength="8.22" lengthAdjust="spacingAndGlyphs" class="t">12</text>
<line x1="336.2" y1="656.5" x2="336.2" y2="659.45" stroke="#141414" stroke-width="0.9" />
<text x="336.2" y="670.4" font-size="9.6" text-anchor="middle" font-weight="bold" textLength="8.22" lengthAdjust="spacingAndGlyphs" class="t">24</text>
<line x1="357.35" y1="656.5" x2="357.35" y2="659.45" stroke="#141414" stroke-width="0.9" />
<text x="357.35" y="670.4" font-size="9.6" text-anchor="middle" font-weight="bold" textLength="8.22" lengthAdjust="spacingAndGlyphs" class="t">36</text>
<line x1="378.5" y1="656.5" x2="378.5" y2="659.45" stroke="#141414" stroke-width="0.9" />
<text x="378.5" y="670.4" font-size="9.6" text-anchor="middle" font-weight="bold" textLength="8.22" lengthAdjust="spacingAndGlyphs" class="t">48</text>
<line x1="399.65" y1="656.5" x2="399.65" y2="659.45" stroke="#141414" stroke-width="0.9" />
<text x="399.65" y="670.4" font-size="9.6" text-anchor="middle" font-weight="bold" textLength="8.22" lengthAdjust="spacingAndGlyphs" class="t">60</text>
<line x1="420.8" y1="656.5" x2="420.8" y2="659.45" stroke="#141414" stroke-width="0.9" />
<text x="420.8" y="670.4" font-size="9.6" text-anchor="middle" font-weight="bold" textLength="8.22" lengthAdjust="spacingAndGlyphs" class="t">72</text>
<line x1="441.95" y1="656.5" x2="441.95" y2="659.45" stroke="#141414" stroke-width="0.9" />
<text x="441.95" y="670.4" font-size="9.6" text-anchor="middle" font-weight="bold" textLength="8.22" lengthAdjust="spacingAndGlyphs" class="t">84</text>
<line x1="463.1" y1="656.5" x2="463.1" y2="659.45" stroke="#141414" stroke-width="0.9" />
<text x="463.1" y="670.4" font-size="9.6" text-anchor="middle" font-weight="bold" textLength="8.22" lengthAdjust="spacingAndGlyphs" class="t">96</text>
<line x1="484.25" y1="656.5" x2="484.25" y2="659.45" stroke="#141414" stroke-width="0.9" />
<text x="484.25" y="670.4" font-size="9.6" text-anchor="middle" font-weight="bold" textLength="12.33" lengthAdjust="spacingAndGlyphs" class="t">108</text>
<line x1="505.4" y1="656.5" x2="505.4" y2="659.45" stroke="#141414" stroke-width="0.9" />
<text x="505.4" y="670.4" font-size="9.6" text-anchor="middle" font-weight="bold" textLength="12.33" lengthAdjust="spacingAndGlyphs" class="t">120</text>
<text x="399" y="682.5" font-size="9.8" text-anchor="middle" font-weight="bold" textLength="60" lengthAdjust="spacingAndGlyphs" >Time months</text>
<text x="276" y="574.6" font-size="10.5" text-anchor="middle" font-weight="bold" textLength="105" lengthAdjust="spacingAndGlyphs" transform="rotate(-90 276 574.6)" >Relapse free survival</text>
<text x="379" y="583.5" font-size="9.3" text-anchor="start" font-weight="bold" textLength="35" lengthAdjust="spacingAndGlyphs" >P=0.001</text>
<text x="401" y="496.2" font-size="9.8" text-anchor="start" font-weight="bold" textLength="113" lengthAdjust="spacingAndGlyphs" >Additional CTG -VE = 93</text>
<text x="401" y="552.8" font-size="9.8" text-anchor="start" font-weight="bold" textLength="115" lengthAdjust="spacingAndGlyphs" >Additional CTG +VE = 42</text>
<path d="M308.7,487.3 L318.3,487.3 L321.2,491.5 L324,494.4 L326.9,496.3 L329.8,500.2 L331.7,501.6 L342.3,502.1 L343.3,504.1 L363.5,504.1 L366.3,504.7 L367.3,507.2 L504.6,507.2" fill="none" stroke="#141414" stroke-width="1.25" stroke-linejoin="miter" stroke-dasharray="1.0 0.65"/>
<path d="M313,486.1V488.5M312.1,487.3H313.9M316,486.1V488.5M315.1,487.3H316.9" fill="none" stroke="#141414" stroke-width="1.0"/>
<path d="M320,487.8V491.8M318.7,489.8H321.3M322,490.5V494.5M320.7,492.5H323.3M324,492.4V496.4M322.7,494.4H325.3M326,493.8V497.8M324.7,495.8H327.3M328.3,496.2V500.2M327.0,498.2H329.6M330.3,498.7V502.7M329.0,500.7H331.6" fill="none" stroke="#141414" stroke-width="1.2"/>
<path d="M331.5,499.8V504.0M330.2,501.9H332.8M333,499.8V504.0M331.7,501.9H334.3M334.5,499.8V504.0M333.2,501.9H335.8M336,499.8V504.0M334.7,501.9H337.3M337.5,499.8V504.0M336.2,501.9H338.8M339,499.8V504.0M337.7,501.9H340.3M340.5,499.8V504.0M339.2,501.9H341.8M342,499.8V504.0M340.7,501.9H343.3" fill="none" stroke="#141414" stroke-width="1.2"/>
<path d="M344.5,502.1V506.3M343.2,504.2H345.8M346.3,502.1V506.3M345.0,504.2H347.6M348.1,502.1V506.3M346.8,504.2H349.4M350,502.1V506.3M348.7,504.2H351.3M352,502.1V506.3M350.7,504.2H353.3M353.8,502.1V506.3M352.5,504.2H355.1M355.6,502.1V506.3M354.3,504.2H356.9M357.5,502.1V506.3M356.2,504.2H358.8M359.3,502.1V506.3M358.0,504.2H360.6M361.2,502.1V506.3M359.9,504.2H362.5M363,502.1V506.3M361.7,504.2H364.3M365.8,502.1V506.3M364.5,504.2H367.1" fill="none" stroke="#141414" stroke-width="1.2"/>
<path d="M375.6,505.0V509.4M374.3,507.2H376.9M377,505.0V509.4M375.7,507.2H378.3M378.4,505.0V509.4M377.1,507.2H379.7M379.8,505.0V509.4M378.5,507.2H381.1M381.2,505.0V509.4M379.9,507.2H382.5M383,505.0V509.4M381.7,507.2H384.3M385.4,505.0V509.4M384.1,507.2H386.7M387.7,505.0V509.4M386.4,507.2H389.0M389.2,505.0V509.4M387.9,507.2H390.5M390.7,505.0V509.4M389.4,507.2H392.0M392.2,505.0V509.4M390.9,507.2H393.5M394.6,505.0V509.4M393.3,507.2H395.9M397,505.0V509.4M395.7,507.2H398.3M400,505.0V509.4M398.7,507.2H401.3M404.6,505.0V509.4M403.3,507.2H405.9M406,505.0V509.4M404.7,507.2H407.3M407.4,505.0V509.4M406.1,507.2H408.7M408.8,505.0V509.4M407.5,507.2H410.1M410.2,505.0V509.4M408.9,507.2H411.5M411.6,505.0V509.4M410.3,507.2H412.9M413,505.0V509.4M411.7,507.2H414.3M414.4,505.0V509.4M413.1,507.2H415.7M415.8,505.0V509.4M414.5,507.2H417.1M417.2,505.0V509.4M415.9,507.2H418.5M418.6,505.0V509.4M417.3,507.2H419.9M420,505.0V509.4M418.7,507.2H421.3M421.4,505.0V509.4M420.1,507.2H422.7M422.8,505.0V509.4M421.5,507.2H424.1M425.4,505.0V509.4M424.1,507.2H426.7M429.2,505.0V509.4M427.9,507.2H430.5M431.5,505.0V509.4M430.2,507.2H432.8M433,505.0V509.4M431.7,507.2H434.3M437,505.0V509.4M435.7,507.2H438.3M440,505.0V509.4M438.7,507.2H441.3M443.8,505.0V509.4M442.5,507.2H445.1M462.3,505.0V509.4M461.0,507.2H463.6M473.8,505.0V509.4M472.5,507.2H475.1M483.8,505.0V509.4M482.5,507.2H485.1M494.6,505.0V509.4M493.3,507.2H495.9M503.8,505.0V509.4M502.5,507.2H505.1" fill="none" stroke="#141414" stroke-width="1.2"/>
<path d="M308.7,490.6 H310.6 V490.6 H310.6 V493.5 H314.4 V493.5 H314.4 V496.3 H318.3 V496.3 H318.3 V499.2 H322.1 V499.2 H322.1 V504 H323.1 V504 H323.1 V508.4 H339.5 V508.4 H339.5 V512.7 H341.25 V512.7 H341.25 V516.25 H348 V516.25 H348 V525 H350.5 V525 H350.5 V530.5 H353.75 V530.5 H353.75 V535 H358.75 V535 H358.75 V539.5 H365 V539.5 H365 V544.5 H368.75 V544.5 H368.75 V551.25 H385.4 V551.25 H385.4 V558.4 H476 V558.4" fill="none" stroke="#141414" stroke-width="2.05" stroke-linejoin="miter"/>
<path d="M323.8,506.15V510.65M340.5,511.75V516.25M343,514.0V518.5M357,532.75V537.25M360,537.25V541.75M366,540.75V545.25M368,543.75V548.25M374,549.0V553.5M378,549.0V553.5" fill="none" stroke="#141414" stroke-width="1.25"/>
<path d="M387,556.15V560.65M388.5,556.15V560.65M390,556.15V560.65M391.5,556.15V560.65M403,556.15V560.65M409,556.15V560.65M412,556.15V560.65M414,556.15V560.65M416.5,556.15V560.65M418.5,556.15V560.65M438.5,556.15V560.65M475.5,556.15V560.65" fill="none" stroke="#141414" stroke-width="1.25"/>
</g>
</svg></body></html>
